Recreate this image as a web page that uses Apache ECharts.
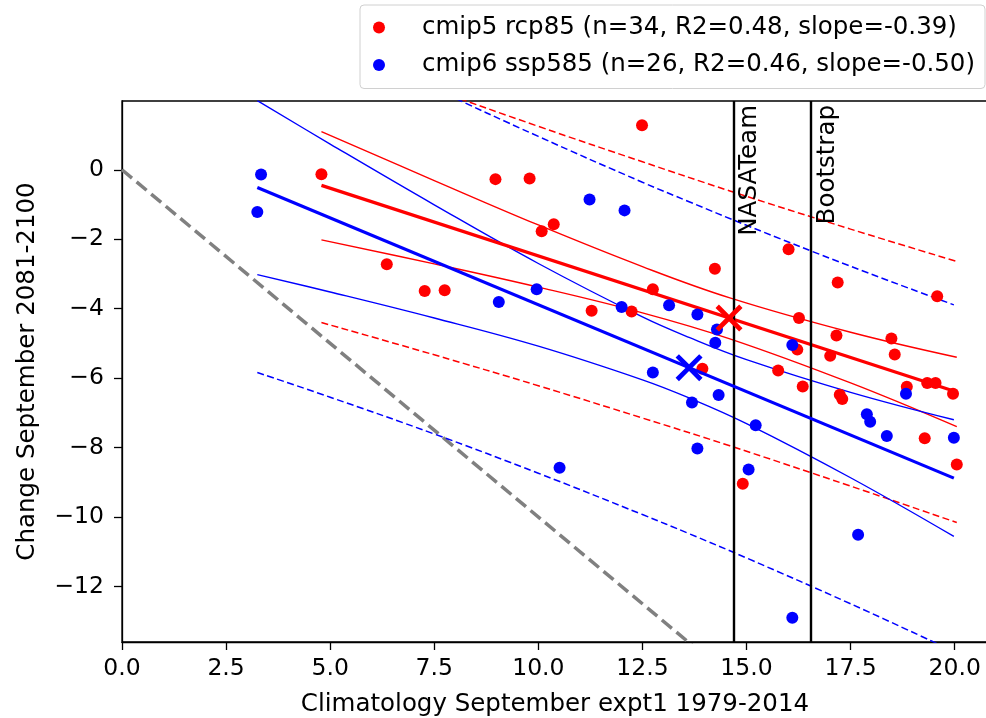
<!DOCTYPE html>
<html>
<head>
<meta charset="utf-8">
<script src="https://cdn.jsdelivr.net/npm/echarts@6/dist/echarts.min.js"></script>
<style>
  html, body { margin: 0; padding: 0; background: #fff; }
  #chart { width: 986px; height: 718px; }
</style>
</head>
<body>
<div id="chart"></div>
<script>
// ---- data ----
var cmip5Name = 'cmip5 rcp85 (n=34, R2=0.48, slope=-0.39)';
var cmip6Name = 'cmip6 ssp585 (n=26, R2=0.46, slope=-0.50)';

var cmip5X = [4.79, 6.36, 7.27, 7.75, 8.97, 9.79, 10.08, 10.37, 11.28, 12.24, 12.49, 12.75,
              13.94, 14.24, 14.91, 16.01, 15.76, 16.26, 16.22, 16.35, 17.19, 17.16, 17.01,
              17.24, 17.30, 18.48, 18.56, 18.85, 19.58, 19.34, 19.54, 19.96, 19.28, 20.05];
var cmip5Y = [-0.13, -2.72, -3.49, -3.47, -0.27, -0.25, -1.77, -1.57, -4.06, -4.08, 1.28, -3.44,
              -5.73, -2.85, -9.04, -2.29, -5.78, -4.27, -5.18, -6.24, -3.25, -4.77, -5.36,
              -6.48, -6.60, -4.86, -5.32, -6.25, -3.64, -6.14, -6.14, -6.45, -7.73, -8.49];

var cmip6X = [3.34, 3.25, 9.05, 11.23, 12.07, 9.96, 12.00, 13.14, 13.82, 14.29, 14.25, 16.10, 12.75,
              13.69, 14.33, 13.82, 10.51, 15.22, 15.05, 16.10, 17.89, 17.97, 18.37, 18.83, 19.98, 17.68];
var cmip6Y = [-0.14, -1.22, -3.81, -0.86, -1.17, -3.44, -3.95, -3.90, -4.17, -4.60, -4.98, -5.05, -5.84,
              -6.70, -6.49, -8.03, -8.58, -7.36, -8.63, -12.90, -7.04, -7.26, -7.67, -6.45, -7.72, -10.51];

// regression lines (end points)
var cmip5FitX = [4.79, 20.05];
var cmip5FitY = [-0.45, -6.40];
var cmip6FitX = [3.25, 19.98];
var cmip6FitY = [-0.51, -8.88];

// confidence (solid thin) and prediction (dashed) bands
var cmip5BandX  = [4.79, 7.5, 10, 12.5, 14.6, 17.5, 20.05];
var cmip5CiUp   = [1.10, -0.31, -1.59, -2.79, -3.69, -4.68, -5.40];
var cmip5CiLow  = [-2.02, -2.71, -3.38, -4.12, -4.87, -6.14, -7.40];
var cmip5PiUp   = [3.49, 2.31, 1.25, 0.23, -0.61, -1.71, -2.64];
var cmip5PiLow  = [-4.40, -5.33, -6.22, -7.15, -7.95, -9.11, -10.16];

var cmip6BandX  = [3.25, 5, 7.5, 10, 12.5, 13.62, 15, 17.5, 19.98];
var cmip6CiUp   = [1.99, 0.74, -1.01, -2.70, -4.24, -4.83, -5.47, -6.41, -7.20];
var cmip6CiLow  = [-3.02, -3.52, -4.27, -5.08, -6.05, -6.57, -7.31, -8.87, -10.56];
var cmip6PiUp   = [4.81, 3.77, 2.34, 0.96, -0.36, -0.92, -1.60, -2.78, -3.89];
var cmip6PiLow  = [-5.84, -6.55, -7.61, -8.74, -9.93, -10.48, -11.18, -12.50, -13.87];

// ensemble means
var cmip5Mean = [14.58, -4.27];
var cmip6Mean = [13.62, -5.70];

// 1:1 reference and observation lines
var diagX = [0, 14];
var diagY = [0, -14];
var obsX = [14.69, 16.55];
var obsNames = ['NASATeam', 'Bootstrap'];

var xTicks = [0, 2.5, 5, 7.5, 10, 12.5, 15, 17.5, 20];
var yTicks = [-12, -10, -8, -6, -4, -2, 0];
var xMin = 0, xMax = 20.8, yMin = -13.6, yMax = 1.98;

// ---- chart ----
var FONT = 'DejaVu Sans';
var FS = 24.5;      // labels, legend, annotations
var FS_TICK = 23.5; // tick labels
var RED = '#ff0000', BLUE = '#0000ff';
var crossPath = 'path://M0,2.5 L2.5,0 L10,7.5 L17.5,0 L20,2.5 L12.5,10 L20,17.5 L17.5,20 L10,12.5 L2.5,20 L0,17.5 L7.5,10 Z';

function zip(xs, ys) { return xs.map(function (x, i) { return [x, ys[i]]; }); }

function band(name, xs, ys, color, dashed) {
  return {
    name: name, type: 'line', data: zip(xs, ys), symbol: 'none',
    smooth: 0.4, silent: true,
    lineStyle: { color: color, width: dashed ? 1.5 : 1.4, type: dashed ? [7, 3.5] : 'solid' },
    z: 3
  };
}

function ensemble(name, xs, ys, fitX, fitY, bx, ciU, ciL, piU, piL, mean, color, z) {
  return [
    { name: name, type: 'scatter', data: zip(xs, ys), symbol: 'circle', symbolSize: 12,
      itemStyle: { color: color, opacity: 1 }, z: z },
    { name: name + ' fit', type: 'line', data: zip(fitX, fitY), symbol: 'none',
      lineStyle: { color: color, width: 3.2 }, z: z },
    band(name + ' ciu', bx, ciU, color, false),
    band(name + ' cil', bx, ciL, color, false),
    band(name + ' piu', bx, piU, color, true),
    band(name + ' pil', bx, piL, color, true),
    { name: name + ' mean', type: 'scatter', data: [mean], symbol: crossPath, symbolSize: 27,
      itemStyle: { color: color, opacity: 1 }, z: 6 }
  ];
}

var chart = echarts.init(document.getElementById('chart'));

var option = {
  animation: false,
  backgroundColor: '#fff',
  textStyle: { fontFamily: FONT },
  grid: { left: 122, top: 101, right: -2, bottom: 76, show: true,
          borderColor: '#000', borderWidth: 1.3, containLabel: false,
          outerBoundsMode: 'none' },
  legend: {
    orient: 'vertical', right: 1, top: 5,
    data: [cmip5Name, cmip6Name],
    icon: 'circle', itemWidth: 40, itemHeight: 12, itemGap: 12.5,
    padding: [10, 10, 11, 13],
    borderColor: '#d0d0d0', borderWidth: 1, borderRadius: 4,
    backgroundColor: '#fff',
    textStyle: { fontFamily: FONT, fontSize: FS, color: '#000', padding: [0, 0, 0, 18] }
  },
  xAxis: {
    type: 'value', min: xMin, max: xMax,
    name: 'Climatology September expt1 1979-2014',
    nameLocation: 'middle', nameGap: 50,
    nameTextStyle: { fontFamily: FONT, fontSize: FS, color: '#000' },
    axisLine: { onZero: false, lineStyle: { color: '#000', width: 1.3 } },
    axisTick: { customValues: xTicks, length: 8, lineStyle: { color: '#000', width: 1.3 } },
    axisLabel: { customValues: xTicks, margin: 15, fontFamily: FONT, fontSize: FS_TICK, color: '#000',
                 formatter: function (v) { return v.toFixed(1); } },
    splitLine: { show: false }
  },
  yAxis: {
    type: 'value', min: yMin, max: yMax,
    name: 'Change September 2081-2100',
    nameLocation: 'middle', nameGap: 82,
    nameTextStyle: { fontFamily: FONT, fontSize: FS, color: '#000' },
    axisLine: { show: true, onZero: false, lineStyle: { color: '#000', width: 1.3 } },
    axisTick: { show: true, customValues: yTicks, length: 8, lineStyle: { color: '#000', width: 1.3 } },
    axisLabel: { customValues: yTicks, margin: 18, fontFamily: FONT, fontSize: FS_TICK, color: '#000',
                 formatter: function (v) { return v < 0 ? '\u2212' + Math.abs(v) : String(v); } },
    splitLine: { show: false }
  },
  series: [].concat(
    [{
      name: 'one-to-one', type: 'line', data: zip(diagX, diagY), symbol: 'none', silent: true,
      lineStyle: { color: '#808080', width: 3.5, type: [13, 6] }, z: 2,
      markLine: {
        silent: true, symbol: ['none', 'none'], animation: false,
        lineStyle: { color: '#000', width: 2.4, type: 'solid' },
        label: { show: true, position: 'insideEndBottom', distance: 4,
                 fontFamily: FONT, fontSize: FS, color: '#000' },
        data: obsX.map(function (x, i) {
          return { xAxis: x, label: { formatter: obsNames[i] } };
        })
      }
    }],
    ensemble(cmip5Name, cmip5X, cmip5Y, cmip5FitX, cmip5FitY, cmip5BandX,
             cmip5CiUp, cmip5CiLow, cmip5PiUp, cmip5PiLow, cmip5Mean, RED, 4),
    ensemble(cmip6Name, cmip6X, cmip6Y, cmip6FitX, cmip6FitY, cmip6BandX,
             cmip6CiUp, cmip6CiLow, cmip6PiUp, cmip6PiLow, cmip6Mean, BLUE, 5)
  )
};

chart.setOption(option);
window.addEventListener('resize', function () { chart.resize(); });
</script>
</body>
</html>
